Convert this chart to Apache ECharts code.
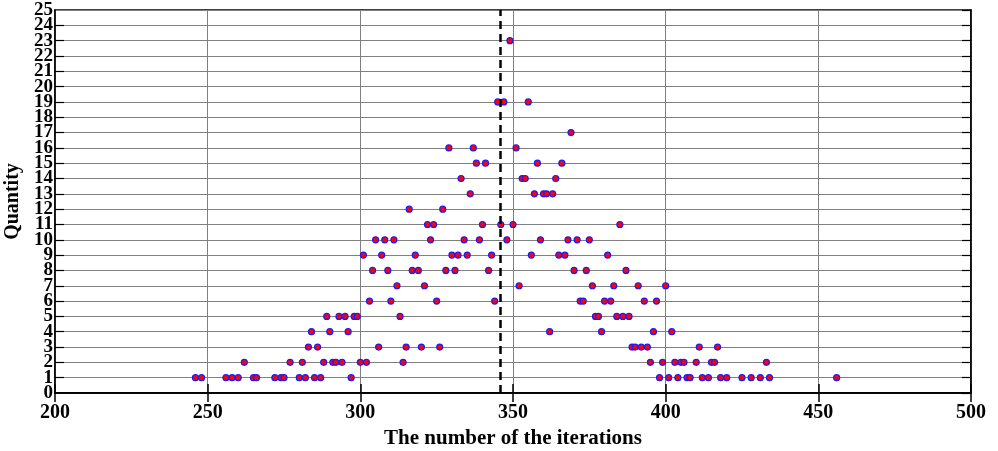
<!DOCTYPE html>
<html>
<head>
<meta charset="utf-8">
<script src="https://cdn.jsdelivr.net/npm/echarts@6/dist/echarts.min.js"></script>
<style>
  html, body { margin: 0; padding: 0; background: #fff; }
  #main { width: 998px; height: 451px; }
</style>
</head>
<body>
<div id="main"></div>
<script>
// iteration counts, grouped by quantity level
var qty1 = [246, 248, 256, 258, 260, 265, 266, 272, 274, 275, 280, 282, 285, 287, 297, 398, 401, 404, 407, 408, 412, 414, 418, 420, 425, 428, 431, 434, 456];
var qty2 = [262, 277, 281, 288, 291, 292, 294, 300, 302, 314, 395, 399, 403, 405, 406, 410, 415, 416, 433];
var qty3 = [283, 286, 306, 315, 320, 326, 389, 390, 392, 394, 411, 417];
var qty4 = [284, 290, 296, 362, 379, 396, 402];
var qty5 = [289, 293, 295, 298, 299, 313, 377, 378, 384, 386, 388];
var qty6 = [303, 310, 325, 344, 372, 373, 380, 382, 393, 397];
var qty7 = [312, 321, 352, 376, 383, 391, 400];
var qty8 = [304, 309, 317, 319, 328, 331, 342, 370, 374, 387];
var qty9 = [301, 307, 318, 330, 332, 335, 343, 356, 365, 367, 381];
var qty10 = [305, 308, 311, 323, 334, 339, 348, 359, 368, 371, 375];
var qty11 = [322, 324, 340, 346, 350, 385];
var qty12 = [316, 327];
var qty13 = [336, 357, 360, 361, 363];
var qty14 = [333, 353, 354, 364];
var qty15 = [338, 341, 358, 366];
var qty16 = [329, 337, 351];
var qty17 = [369];
var qty19 = [345, 347, 355];
var qty23 = [349];

var levels = [
    [1, qty1], [2, qty2], [3, qty3], [4, qty4], [5, qty5], [6, qty6], [7, qty7],
    [8, qty8], [9, qty9], [10, qty10], [11, qty11], [12, qty12], [13, qty13],
    [14, qty14], [15, qty15], [16, qty16], [17, qty17], [19, qty19], [23, qty23]
];

var meanIter = 345.9; // dashed line

var points = [];
levels.forEach(function (lv) {
    lv[1].forEach(function (x) {
        points.push([x, lv[0]]);
    });
});

var serif = '"Liberation Serif", "DejaVu Serif", serif';
var labelFont = { fontFamily: serif, fontWeight: 'bold', color: '#000' };

var myChart = echarts.init(document.getElementById('main'));
var option = {
    animation: false,
    grid: {
        left: 55, right: 27, top: 10, bottom: 58,
        outerBoundsMode: 'none',
        containLabel: false,
        show: true, borderColor: '#000', borderWidth: 1.5, backgroundColor: '#fff'
    },
    xAxis: [
        {
            type: 'value', min: 200, max: 500, interval: 50,
            name: 'The number of the iterations',
            nameLocation: 'middle', nameGap: 35,
            nameTextStyle: Object.assign({ fontSize: 21 }, labelFont),
            axisLine: { show: true, lineStyle: { color: '#000', width: 1.5 } },
            axisTick: { show: true, inside: true, length: 9, lineStyle: { color: '#000', width: 1.5 } },
            axisLabel: Object.assign({ fontSize: 20, margin: 10, showMinLabel: true, showMaxLabel: true }, labelFont),
            splitLine: { show: true, lineStyle: { color: '#808080', width: 1 } }
        },
        {
            // top frame ticks only
            type: 'value', min: 200, max: 500, interval: 50, position: 'top',
            axisLine: { show: true, lineStyle: { color: '#000', width: 1.5 } },
            axisTick: { show: true, inside: true, length: 9, lineStyle: { color: '#000', width: 1.5 } },
            axisLabel: { show: false },
            splitLine: { show: false }
        }
    ],
    yAxis: [
        {
            // labels 1..24 (end labels are drawn by the third axis, since they'd get dropped for overlap)
            type: 'value', min: 0, max: 25, interval: 1,
            name: 'Quantity',
            nameLocation: 'middle', nameGap: 29, nameRotate: 90,
            nameTextStyle: Object.assign({ fontSize: 20 }, labelFont),
            axisLine: { show: true, lineStyle: { color: '#000', width: 1.5 } },
            axisTick: { show: true, inside: true, length: 9, lineStyle: { color: '#000', width: 1.2 } },
            axisLabel: Object.assign({ fontSize: 19, margin: 2, showMinLabel: false, showMaxLabel: false }, labelFont),
            splitLine: { show: true, lineStyle: { color: '#808080', width: 1 } }
        },
        {
            // right frame ticks only
            type: 'value', min: 0, max: 25, interval: 1, position: 'right',
            axisLine: { show: true, lineStyle: { color: '#000', width: 1.5 } },
            axisTick: { show: true, inside: true, length: 9, lineStyle: { color: '#000', width: 1.2 } },
            axisLabel: { show: false },
            splitLine: { show: false }
        },
        {
            // 0 and 25 labels
            type: 'value', min: 0, max: 25, interval: 1, position: 'left',
            axisLine: { show: false },
            axisTick: { show: false },
            splitLine: { show: false },
            axisLabel: Object.assign({
                fontSize: 19, margin: 2, showMinLabel: true, showMaxLabel: true,
                formatter: function (v) { return (v === 0 || v === 25) ? String(v) : ''; }
            }, labelFont)
        }
    ],
    series: [
        {
            type: 'scatter',
            data: points,
            symbol: 'circle',
            symbolSize: 6,
            itemStyle: { color: '#ff0000', borderColor: '#1a1aff', borderWidth: 1.2, opacity: 1 },
            markLine: {
                silent: true,
                symbol: ['none', 'none'],
                label: { show: false },
                lineStyle: { color: '#000', width: 2.5, type: [8, 5] },
                data: [{ xAxis: meanIter }]
            },
            z: 3
        }
    ]
};
myChart.setOption(option);
</script>
</body>
</html>
